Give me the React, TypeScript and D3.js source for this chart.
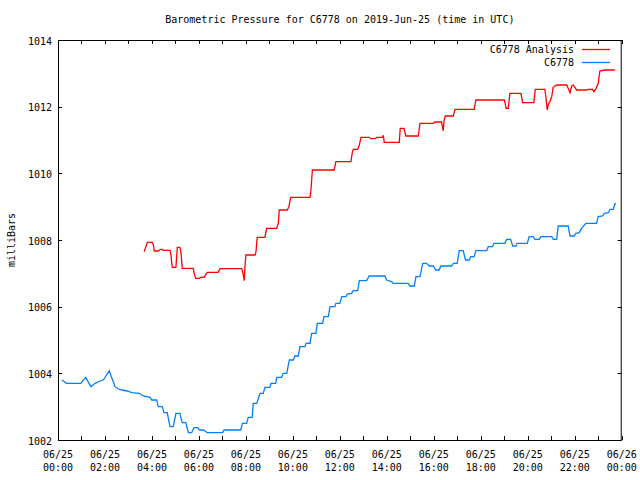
import React from "react";
import * as d3 from "d3";

const title = "Barometric Pressure for C6778 on 2019-Jun-25 (time in UTC)";
const yLabel = "milliBars";
const yTicks = [1002, 1004, 1006, 1008, 1010, 1012, 1014];
const xTickHours = [0, 2, 4, 6, 8, 10, 12, 14, 16, 18, 20, 22, 24];
const xTickDates = ["06/25", "06/25", "06/25", "06/25", "06/25", "06/25", "06/25", "06/25", "06/25", "06/25", "06/25", "06/25", "06/26"];
const xTickTimes = ["00:00", "02:00", "04:00", "06:00", "08:00", "10:00", "12:00", "14:00", "16:00", "18:00", "20:00", "22:00", "00:00"];
const seriesNames = ["C6778 Analysis", "C6778"];
const seriesColors = ["#ff0000", "#0080ff"];

// C6778 observed (hours UTC, mbar)
const obsHours = [0.16, 0.37, 0.97, 1.18, 1.40, 1.58, 1.79, 1.93, 2.18, 2.43, 2.57, 2.71, 2.95, 3.14, 3.46, 3.63, 3.92, 3.99, 4.20, 4.27, 4.44, 4.51, 4.65, 4.77, 4.91, 5.02, 5.19, 5.29, 5.44, 5.55, 5.69, 5.79, 5.95, 6.02, 6.19, 6.36, 7.01, 7.07, 7.78, 7.85, 8.03, 8.10, 8.27, 8.31, 8.46, 8.60, 8.74, 8.81, 9.02, 9.07, 9.27, 9.31, 9.52, 9.59, 9.74, 9.85, 10.02, 10.09, 10.23, 10.30, 10.52, 10.56, 10.73, 10.80, 10.98, 11.04, 11.27, 11.32, 11.51, 11.58, 11.79, 11.83, 12.00, 12.08, 12.26, 12.32, 12.50, 12.57, 12.76, 12.83, 13.14, 13.25, 13.92, 13.99, 14.20, 14.27, 14.91, 14.98, 15.17, 15.24, 15.41, 15.53, 15.69, 15.81, 15.98, 16.08, 16.23, 16.30, 16.76, 16.83, 17.00, 17.08, 17.25, 17.35, 17.51, 17.57, 17.72, 17.79, 18.25, 18.32, 18.50, 18.56, 19.03, 19.10, 19.27, 19.36, 19.50, 19.55, 19.98, 20.06, 20.23, 20.31, 20.49, 20.56, 21.02, 21.09, 21.23, 21.30, 21.72, 21.80, 21.97, 22.05, 22.19, 22.29, 22.48, 22.93, 23.00, 23.19, 23.26, 23.43, 23.50, 23.64, 23.71, 23.76];
const obsValues = [1003.80, 1003.70, 1003.70, 1003.88, 1003.60, 1003.70, 1003.77, 1003.80, 1004.08, 1003.60, 1003.53, 1003.50, 1003.47, 1003.42, 1003.40, 1003.32, 1003.28, 1003.20, 1003.20, 1003.00, 1003.00, 1002.82, 1002.82, 1002.40, 1002.40, 1002.80, 1002.80, 1002.52, 1002.52, 1002.22, 1002.22, 1002.37, 1002.37, 1002.30, 1002.30, 1002.22, 1002.22, 1002.30, 1002.30, 1002.50, 1002.50, 1002.68, 1002.68, 1003.10, 1003.10, 1003.40, 1003.40, 1003.58, 1003.58, 1003.70, 1003.70, 1003.88, 1003.88, 1004.00, 1004.00, 1004.40, 1004.40, 1004.52, 1004.52, 1004.80, 1004.80, 1004.90, 1004.90, 1005.20, 1005.20, 1005.50, 1005.50, 1005.70, 1005.70, 1006.00, 1006.00, 1006.10, 1006.10, 1006.30, 1006.30, 1006.38, 1006.40, 1006.48, 1006.48, 1006.78, 1006.78, 1006.92, 1006.92, 1006.80, 1006.75, 1006.70, 1006.70, 1006.62, 1006.62, 1006.90, 1006.90, 1007.30, 1007.30, 1007.22, 1007.22, 1007.10, 1007.10, 1007.22, 1007.22, 1007.30, 1007.30, 1007.68, 1007.68, 1007.40, 1007.40, 1007.50, 1007.50, 1007.68, 1007.68, 1007.80, 1007.80, 1007.90, 1007.90, 1008.02, 1008.02, 1007.82, 1007.82, 1007.90, 1007.90, 1008.10, 1008.10, 1008.02, 1008.02, 1008.10, 1008.10, 1008.02, 1008.02, 1008.42, 1008.42, 1008.12, 1008.12, 1008.20, 1008.22, 1008.35, 1008.50, 1008.50, 1008.70, 1008.72, 1008.80, 1008.82, 1008.92, 1008.92, 1009.08, 1009.10];

// C6778 Analysis (hours UTC, mbar)
const anaHours = [3.67, 3.78, 3.80, 4.01, 4.06, 4.10, 4.27, 4.37, 4.44, 4.48, 4.77, 4.81, 4.84, 4.87, 5.02, 5.08, 5.19, 5.24, 5.29, 5.76, 5.80, 5.86, 6.02, 6.07, 6.22, 6.30, 6.36, 6.82, 6.90, 7.82, 7.86, 7.89, 7.93, 7.96, 8.00, 8.39, 8.43, 8.48, 8.81, 8.88, 9.31, 9.38, 9.42, 9.76, 9.83, 9.91, 10.73, 10.77, 10.83, 11.76, 11.83, 12.47, 12.53, 12.57, 12.76, 12.83, 12.90, 13.25, 13.31, 13.50, 13.57, 13.82, 13.85, 13.89, 14.53, 14.57, 14.73, 14.81, 15.34, 15.41, 15.98, 16.05, 16.33, 16.37, 16.40, 16.44, 16.49, 16.83, 16.90, 17.72, 17.79, 19.00, 19.04, 19.08, 19.17, 19.24, 19.71, 19.78, 20.26, 20.32, 20.73, 20.77, 20.83, 20.87, 20.94, 21.02, 21.08, 21.23, 21.66, 21.72, 21.80, 21.87, 21.94, 22.01, 22.08, 22.51, 22.57, 22.76, 22.82, 22.91, 23.00, 23.07, 23.29, 23.71];
const anaValues = [1007.65, 1007.88, 1007.93, 1007.93, 1007.85, 1007.67, 1007.67, 1007.72, 1007.72, 1007.69, 1007.69, 1007.55, 1007.32, 1007.18, 1007.18, 1007.78, 1007.78, 1007.60, 1007.15, 1007.15, 1007.00, 1006.85, 1006.85, 1006.88, 1006.88, 1006.97, 1007.03, 1007.03, 1007.14, 1007.14, 1007.05, 1006.95, 1006.78, 1007.20, 1007.55, 1007.55, 1007.65, 1008.08, 1008.08, 1008.35, 1008.35, 1008.50, 1008.90, 1008.90, 1009.00, 1009.28, 1009.28, 1009.50, 1010.10, 1010.10, 1010.35, 1010.35, 1010.62, 1010.72, 1010.72, 1010.85, 1011.08, 1011.08, 1011.04, 1011.04, 1011.08, 1011.08, 1011.14, 1010.93, 1010.93, 1011.35, 1011.35, 1011.12, 1011.12, 1011.50, 1011.50, 1011.54, 1011.54, 1011.40, 1011.27, 1011.60, 1011.72, 1011.72, 1011.92, 1011.92, 1012.20, 1012.20, 1012.10, 1011.95, 1011.95, 1012.40, 1012.40, 1012.12, 1012.12, 1012.52, 1012.52, 1012.30, 1011.90, 1012.05, 1012.15, 1012.30, 1012.58, 1012.65, 1012.65, 1012.55, 1012.42, 1012.62, 1012.65, 1012.58, 1012.50, 1012.50, 1012.52, 1012.52, 1012.45, 1012.55, 1012.70, 1013.07, 1013.10, 1013.10];

const W = 640;
const H = 480;
const L = 58;
const R = 621.7;
const T = 40;
const B = 440;
const FONT = "'DejaVu Sans Mono', 'Liberation Mono', monospace";

export default function App() {
  const x = d3.scaleLinear().domain([0, 24]).range([L, R]);
  const y = d3.scaleLinear().domain([1002, 1014]).range([B, T]);
  const line = d3
    .line<[number, number]>()
    .x((d) => x(d[0]))
    .y((d) => y(d[1]));
  const obs: [number, number][] = obsHours.map((h, i) => [h, obsValues[i]]);
  const ana: [number, number][] = anaHours.map((h, i) => [h, anaValues[i]]);
  const hourTicks = d3.range(0, 25);
  const tickLen = 4;

  return (
    <svg
      width={W}
      height={H}
      style={{ position: "absolute", left: 0, top: 0, background: "#fff" }}
      fontFamily={FONT}
      fontSize={10}
    >
      <rect x={0} y={0} width={W} height={H} fill="#fff" />
      <text x={(L + R) / 2} y={19} textAnchor="middle" dominantBaseline="central" fill="#000">
        {title}
      </text>
      <text
        transform={`translate(11,${(T + B) / 2}) rotate(-90)`}
        textAnchor="middle"
        dominantBaseline="central"
        fill="#000"
      >
        {yLabel}
      </text>
      {/* y ticks */}
      {yTicks.map((v) => (
        <g key={"y" + v}>
          <line x1={L} x2={L + tickLen} y1={Math.round(y(v)) + 0.5} y2={Math.round(y(v)) + 0.5} stroke="#000" />
          <line x1={R - tickLen} x2={R} y1={Math.round(y(v)) + 0.5} y2={Math.round(y(v)) + 0.5} stroke="#000" />
          <text x={52} y={y(v) + 1} textAnchor="end" dominantBaseline="central" fill="#000">
            {v}
          </text>
        </g>
      ))}
      {/* x ticks */}
      {hourTicks.map((h) => (
        <g key={"x" + h}>
          <line x1={Math.round(x(h)) + 0.5} x2={Math.round(x(h)) + 0.5} y1={B} y2={B - tickLen} stroke="#000" />
          <line x1={Math.round(x(h)) + 0.5} x2={Math.round(x(h)) + 0.5} y1={T} y2={T + tickLen} stroke="#000" />
        </g>
      ))}
      {xTickHours.map((h, i) => (
        <g key={"xl" + h}>
          <text x={x(h)} y={454.5} textAnchor="middle" dominantBaseline="central" fill="#000">
            {xTickDates[i]}
          </text>
          <text x={x(h)} y={467} textAnchor="middle" dominantBaseline="central" fill="#000">
            {xTickTimes[i]}
          </text>
        </g>
      ))}
      {/* frame */}
      <rect x={L + 0.5} y={T + 0.5} width={R - L - 1} height={B - T} fill="none" stroke="#000" />
      {/* series */}
      <path d={line(ana) || ""} fill="none" stroke={seriesColors[0]} strokeWidth={1.3} />
      <path d={line(obs) || ""} fill="none" stroke={seriesColors[1]} strokeWidth={1.3} />
      {/* legend */}
      {seriesNames.map((n, i) => (
        <g key={n}>
          <text x={574} y={49.5 + i * 13} textAnchor="end" dominantBaseline="central" fill="#000">
            {n}
          </text>
          <line x1={582} x2={610} y1={49.5 + i * 13} y2={49.5 + i * 13} stroke={seriesColors[i]} strokeWidth={1.3} />
        </g>
      ))}
    </svg>
  );
}
